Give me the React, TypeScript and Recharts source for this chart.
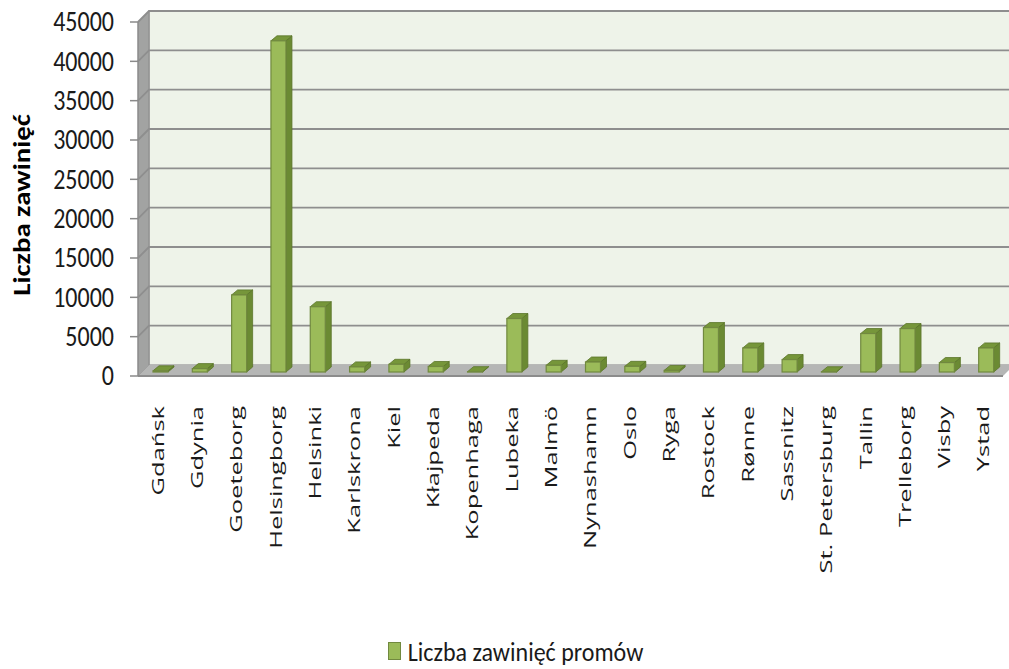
import { BarChart, Bar, XAxis, YAxis, CartesianGrid, Legend, ReferenceArea } from 'recharts';

const ports = ['Gdańsk', 'Gdynia', 'Goeteborg', 'Helsingborg', 'Helsinki', 'Karlskrona', 'Kiel', 'Kłajpeda', 'Kopenhaga', 'Lubeka', 'Malmö', 'Nynashamn', 'Oslo', 'Ryga', 'Rostock', 'Rønne', 'Sassnitz', 'St. Petersburg', 'Tallin', 'Trelleborg', 'Visby', 'Ystad'];
const calls = [150, 430, 9800, 42100, 8300, 650, 980, 700, 40, 6800, 850, 1270, 720, 200, 5650, 3060, 1580, 30, 4890, 5520, 1200, 3060];
const yTicks = [0, 5000, 10000, 15000, 20000, 25000, 30000, 35000, 40000, 45000];

const data = ports.map((name, i) => ({ name, calls: calls[i] }));

const NARROW = 'Carlito, "Liberation Sans Narrow", sans-serif';
const WIDE = '"Open Sans", "DejaVu Sans", sans-serif';
const DEPTH = 11; // wall depth offset

const Walls = (props: any) => {
  const { x, y, width, height } = props;
  const b = y + height;
  return (
    <g>
      <rect x={x + DEPTH} y={y - DEPTH} width={width + 20} height={height} fill="#eef3e9" stroke="#a6a6a6" strokeWidth={1.5} />
      <polygon points={`${x},${y} ${x + DEPTH},${y - DEPTH} ${x + DEPTH},${b - DEPTH} ${x},${b}`} fill="#a2a3a2" stroke="#8a8a8a" strokeWidth={1} />
      <polygon points={`${x},${b} ${x + DEPTH},${b - DEPTH} ${x + width + DEPTH},${b - DEPTH} ${x + width},${b}`} fill="#b5b6b5" />
      <line x1={x} y1={b} x2={x + width} y2={b} stroke="#8c8c8c" strokeWidth={2} />
    </g>
  );
};

const gridLine = (props: any) => {
  const { x1, x2, y1, index } = props;
  if (y1 > 370) return <g key={`g${index}`} />;
  return (
    <path
      key={`g${index}`}
      d={`M${x1},${y1} L${x1 + DEPTH},${y1 - DEPTH} L${x2 + DEPTH + 20},${y1 - DEPTH}`}
      stroke="#8e8e8e"
      strokeWidth={1.8}
      fill="none"
    />
  );
};

const Box3D = (props: any) => {
  const { x, y, width, height } = props;
  const fx = x + 3;
  const fy = y - 4;
  const h = Math.max(height, 0);
  const d = 6;
  const e = 5;
  return (
    <g>
      <polygon points={`${fx + width},${fy} ${fx + width + d},${fy - e} ${fx + width + d},${fy + h - e} ${fx + width},${fy + h}`} fill="#6b8a33" stroke="#5a7529" strokeWidth={0.8} />
      <polygon points={`${fx},${fy} ${fx + d},${fy - e} ${fx + width + d},${fy - e} ${fx + width},${fy}`} fill="#76963a" stroke="#5a7529" strokeWidth={0.8} />
      <rect x={fx} y={fy} width={width} height={h} fill="#9bbb59" stroke="#71893f" strokeWidth={1.2} />
    </g>
  );
};

const PortTick = (props: any) => {
  const { x, y, payload } = props;
  const ty = y + 22;
  return (
    <text transform={`translate(${x},${ty}) rotate(-90) scale(1.5,1)`} x={0} y={0} textAnchor="end" dy="0.36em" fontSize={17} fontFamily={WIDE} fill="#1a1a1a">
      {payload.value}
    </text>
  );
};

const ValueTick = (props: any) => {
  const { x, y, payload } = props;
  return (
    <text transform={`translate(${x},${y}) scale(1,1.16)`} x={0} y={0} textAnchor="end" dy="0.34em" fontSize={24} fontFamily={NARROW} fill="#1a1a1a">
      {payload.value}
    </text>
  );
};

const AxisTitle = (props: any) => {
  const vb = props.viewBox || {};
  const cx = 22;
  const cy = (vb.y ?? 22) + (vb.height ?? 354) / 2 + 6;
  return (
    <text transform={`translate(${cx},${cy}) rotate(-90) scale(1.2,1)`} x={0} y={0} textAnchor="middle" dy="0.35em" fontSize={24} fontWeight="bold" fontFamily={NARROW} fill="#000">
      Liczba zawinięć
    </text>
  );
};

const LegendBox = () => (
  <div style={{ display: 'flex', justifyContent: 'center', alignItems: 'center', height: 36, paddingLeft: 28, fontFamily: NARROW, fontSize: 24, color: '#1a1a1a' }}>
    <span style={{ display: 'inline-block', width: 11, height: 16, background: '#9bbb59', border: '1px solid #71893f', marginRight: 7 }} />
    <span style={{ display: 'inline-block', transform: 'scaleY(1.14)' }}>Liczba zawinięć promów</span>
  </div>
);

export default function App() {
  return (
    <div style={{ position: 'absolute', left: 0, top: 0, background: '#fff' }}>
      <BarChart width={1009} height={669} data={data} margin={{ top: 22, right: 6, bottom: 0, left: 0 }} barSize={15}>
        <ReferenceArea y1={0} y2={45000} shape={Walls} ifOverflow="visible" zIndex={-200} />
        <CartesianGrid vertical={false} horizontal={gridLine} />
        <XAxis dataKey="name" interval={0} height={257} tickLine={false} axisLine={false} tick={<PortTick />} />
        <YAxis
          domain={[0, 45000]}
          ticks={yTicks}
          width={138}
          tickSize={8}
          tickMargin={16}
          axisLine={{ stroke: '#8a8a8a' }}
          tickLine={{ stroke: '#8a8a8a', strokeWidth: 1.5 }}
          tick={<ValueTick />}
          label={<AxisTitle />}
        />
        <Legend verticalAlign="bottom" content={<LegendBox />} />
        <Bar dataKey="calls" name="Liczba zawinięć promów" fill="#9bbb59" shape={Box3D} isAnimationActive={false} />
      </BarChart>
    </div>
  );
}
